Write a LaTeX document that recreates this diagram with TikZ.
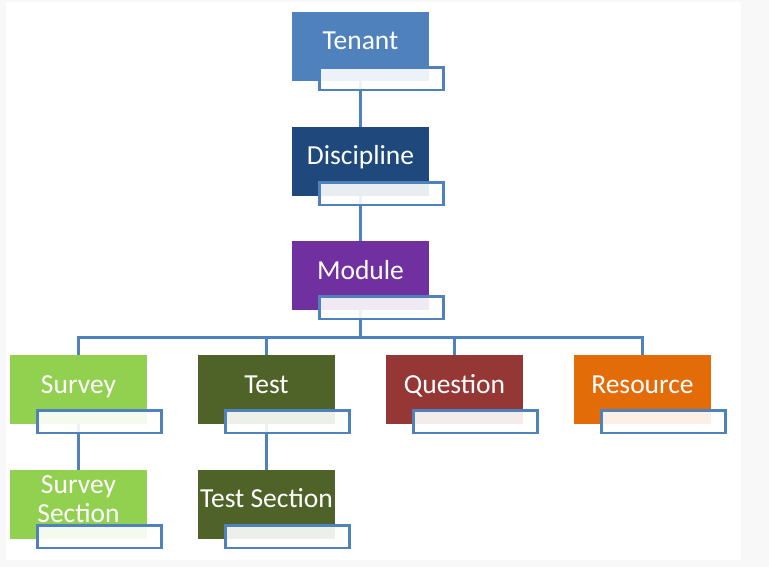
\documentclass[tikz,border=0pt]{standalone}
\usepackage{fontspec}
\setmainfont{Carlito}
\definecolor{conn}{HTML}{4F81BD}
\definecolor{cTenant}{HTML}{4F81BD}
\definecolor{cDisc}{HTML}{1F497D}
\definecolor{cModule}{HTML}{7030A0}
\definecolor{cSurvey}{HTML}{92D050}
\definecolor{cTest}{HTML}{4F6228}
\definecolor{cQuest}{HTML}{953735}
\definecolor{cRes}{HTML}{E36C09}
\definecolor{bgGray}{HTML}{F8F8F8}
\pgfdeclarelayer{canvas}
\pgfdeclarelayer{background}
\pgfsetlayers{canvas,background,main}
\tikzset{
  box/.style={draw=none, minimum width=137pt, minimum height=69pt, anchor=north west, inner sep=0pt, outer sep=0pt},
  lbl/.style={draw=conn, line width=2.5pt, fill=white, fill opacity=0.9, minimum width=124pt, minimum height=22.5pt, anchor=north west, inner sep=0pt, outer sep=0pt},
  txt/.style={text=white, font=\fontsize{27.5}{29}\selectfont, inner sep=0pt},
  link/.style={draw=conn, line width=3pt},
}
\newcommand{\orgunit}[4]{%
  \node[box, fill=#4] (#1) at (#2,#3) {};
  \node[lbl] (#1l) at (#2+27.5,#3+55.5) {};
}
\begin{document}
\begin{tikzpicture}[x=1pt,y=-1pt]
\useasboundingbox (0,0) rectangle (769,567);
\begin{pgfonlayer}{canvas}
\fill[bgGray] (0,0) rectangle (769,567);
\fill[white] (6,2) rectangle (741,560);
\end{pgfonlayer}

\orgunit{ten}{292}{12}{cTenant}
\node[txt, anchor=base] (tenT) at (360.5,50) {Tenant};
\orgunit{dis}{292}{127}{cDisc}
\node[txt, anchor=base] (disT) at (360.5,165) {Discipline};
\orgunit{mod}{292}{241}{cModule}
\node[txt, anchor=base] (modT) at (360.5,279) {Module};

\orgunit{sur}{10}{355}{cSurvey}
\node[txt, anchor=base] (surT) at (78.5,393) {Survey};
\orgunit{tes}{198}{355}{cTest}
\node[txt, anchor=base] (tesT) at (266.5,393) {Test};
\orgunit{que}{386}{355}{cQuest}
\node[txt, anchor=base] (queT) at (454.5,393) {Question};
\orgunit{res}{574}{355}{cRes}
\node[txt, anchor=base] (resT) at (642.5,393) {Resource};

\orgunit{ss}{10}{470}{cSurvey}
\node[txt, align=center, anchor=center] (ssT) at (78.5,499) {Survey\\Section};
\orgunit{ts}{198}{470}{cTest}
\node[txt, anchor=base] (tsT) at (266.5,507) {Test Section};

\coordinate (bus) at (360.5,337);
\begin{pgfonlayer}{background}
\draw[link] (ten.center) -- (dis.center);
\draw[link] (dis.center) -- (mod.center);
\draw[link] (mod.center) -- (bus);
\draw[link] (bus) -| (sur.center);
\draw[link] (bus) -| (tes.center);
\draw[link] (bus) -| (que.center);
\draw[link] (bus) -| (res.center);
\draw[link] (sur.center) -- (ss.center);
\draw[link] (tes.center) -- (ts.center);
\end{pgfonlayer}
\end{tikzpicture}
\end{document}
